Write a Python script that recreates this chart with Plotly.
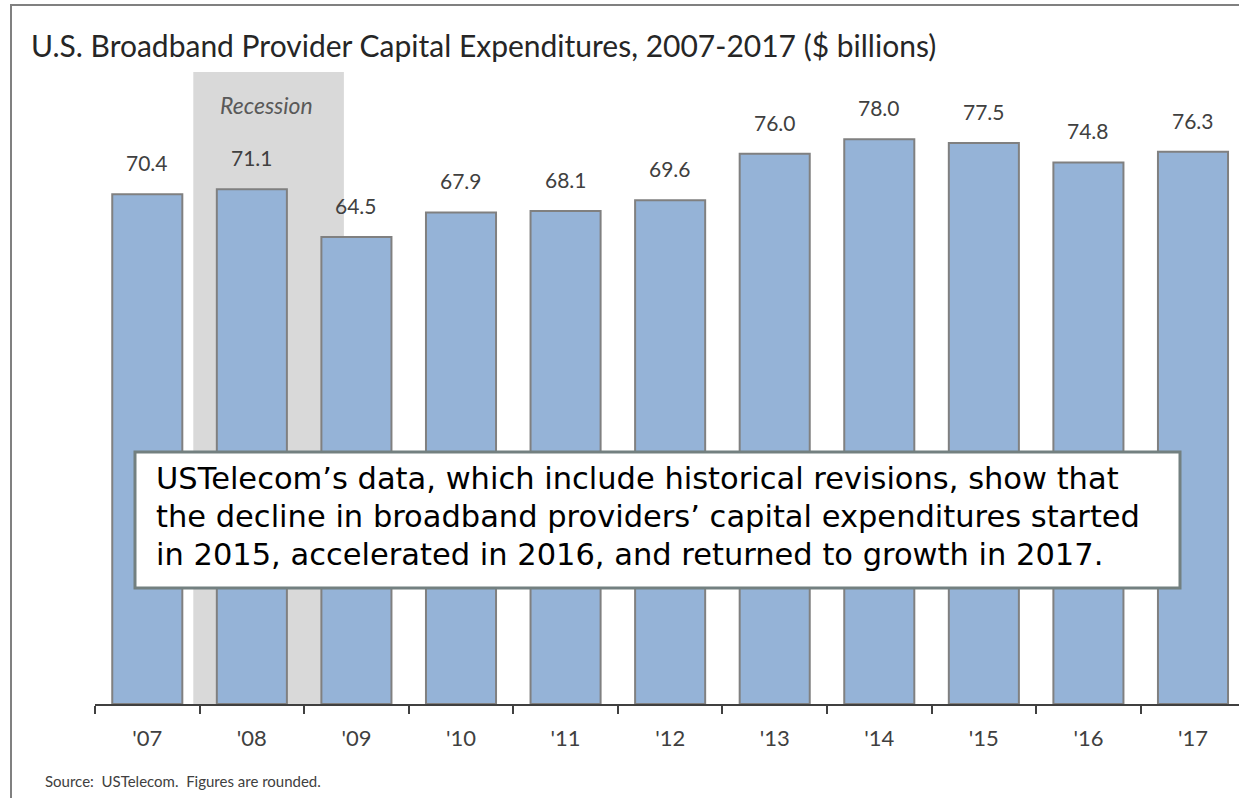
import plotly.graph_objects as go

# Capital expenditure by year ($ billions)
years = ["'07", "'08", "'09", "'10", "'11", "'12", "'13", "'14", "'15", "'16", "'17"]
capex = [70.4, 71.1, 64.5, 67.9, 68.1, 69.6, 76.0, 78.0, 77.5, 74.8, 76.3]
value_labels = ["70.4", "71.1", "64.5", "67.9", "68.1", "69.6", "76.0", "78.0", "77.5", "74.8", "76.3"]

title_text = "U.S. Broadband Provider Capital Expenditures, 2007-2017 ($ billions)"
recession_label = "Recession"
callout_lines = [
    "USTelecom’s data, which include historical revisions, show that",
    "the decline in broadband providers’ capital expenditures started",
    "in 2015, accelerated in 2016, and returned to growth in 2017.",
]
source_text = "Source:  USTelecom.  Figures are rounded."

BODY_FONT = "Lato"
TEXT_GRAY = "#404040"

W, H = 1239, 798
ML, MR, MT, MB = 95, 0, 72, 94
plot_w, plot_h = W - ML - MR, H - MT - MB


def px_x(p):
    """Horizontal page pixel -> paper coordinate."""
    return (p - ML) / plot_w


def px_y(p):
    """Vertical page pixel (from top) -> paper coordinate."""
    return (H - MB - p) / plot_h


fig = go.Figure()

fig.add_trace(go.Bar(
    x=years,
    y=capex,
    marker=dict(color="#95B3D7", line=dict(color="#808080", width=2)),
    hoverinfo="skip",
))

annotations = []

# value labels above each bar
for yr, v, lab in zip(years, capex, value_labels):
    annotations.append(dict(
        x=yr, y=v, xref="x", yref="y", text=lab, showarrow=False,
        yanchor="bottom", yshift=17,
        font=dict(family=BODY_FONT, size=21, color=TEXT_GRAY),
    ))

# recession band label
annotations.append(dict(
    x=px_x(266), y=px_y(105), xref="paper", yref="paper",
    text="<i>" + recession_label + "</i>",
    xanchor="center", yanchor="middle", showarrow=False,
    font=dict(family=BODY_FONT, size=23, color="#595959"),
))

# chart title
annotations.append(dict(
    x=px_x(29), y=px_y(45), xref="paper", yref="paper", text=title_text,
    xanchor="left", yanchor="middle", showarrow=False,
    font=dict(family=BODY_FONT, size=30, color="#262626"),
))

# footnote
annotations.append(dict(
    x=px_x(43), y=px_y(781), xref="paper", yref="paper", text=source_text,
    xanchor="left", yanchor="middle", showarrow=False,
    font=dict(family=BODY_FONT, size=15, color=TEXT_GRAY),
))

# callout text, one line at a time
for i, line in enumerate(callout_lines):
    annotations.append(dict(
        x=px_x(154), y=px_y(478 + 38 * i), xref="paper", yref="paper",
        text=line, align="left",
        xanchor="left", yanchor="middle", showarrow=False,
        font=dict(family="DejaVu Sans", size=30.5, color="black"),
    ))

shapes = [
    # recession band
    dict(type="rect", xref="x", yref="paper", x0=0.44, x1=1.88, y0=0, y1=1,
         fillcolor="#D9D9D9", line=dict(width=0), layer="below"),
    # callout box
    dict(type="rect", xref="paper", yref="paper",
         x0=px_x(135), x1=px_x(1180), y0=px_y(588), y1=px_y(452),
         fillcolor="white", line=dict(color="#738080", width=3), layer="above"),
    # outer frame
    dict(type="rect", xref="paper", yref="paper",
         x0=px_x(11), x1=px_x(1260), y0=px_y(820), y1=px_y(5),
         fillcolor="rgba(0,0,0,0)", line=dict(color="#808080", width=2), layer="above"),
]

fig.update_layout(
    width=W, height=H,
    margin=dict(l=ML, r=MR, t=MT, b=MB),
    paper_bgcolor="white", plot_bgcolor="rgba(0,0,0,0)",
    showlegend=False,
    bargap=0.33,
    xaxis=dict(
        type="category", range=[-0.5, 10.44],
        showline=True, linecolor="#404040", linewidth=2,
        ticks="outside", tickson="boundaries", ticklen=8, tickwidth=2, tickcolor="#404040",
        ticklabelstandoff=14,
        tickfont=dict(family=BODY_FONT, size=22, color=TEXT_GRAY),
        showgrid=False, zeroline=False,
    ),
    yaxis=dict(range=[0, 87.3], visible=False, showgrid=False, zeroline=False),
    annotations=annotations,
    shapes=shapes,
)

fig.write_html("out.html")
